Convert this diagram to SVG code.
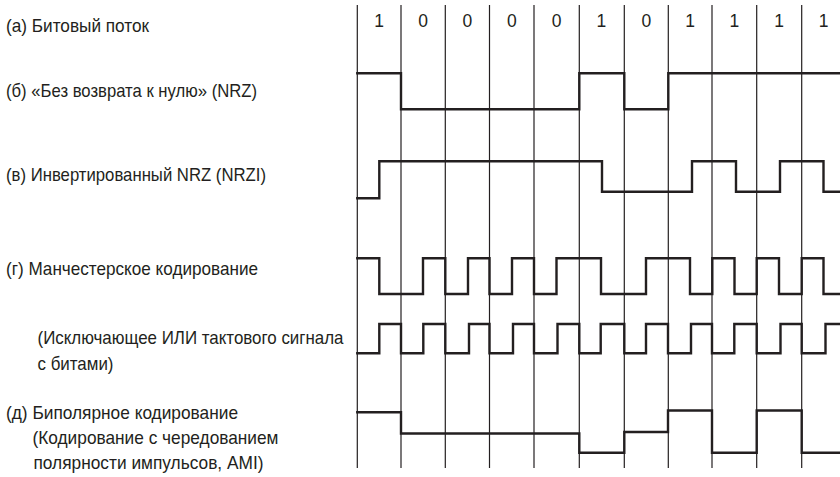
<svg xmlns="http://www.w3.org/2000/svg" width="840" height="477" viewBox="0 0 840 477">
<style>
.lbl{font-family:"Liberation Sans","DejaVu Sans",sans-serif;font-size:19px;fill:#231f20}
.bit{font-family:"Liberation Sans","DejaVu Sans",sans-serif;font-size:17.5px;fill:#231f20;text-anchor:middle}
.grid{stroke:#231f20;stroke-width:1.2;fill:none}
.wave{stroke:#231f20;stroke-width:2.4;fill:none;stroke-linejoin:miter;stroke-linecap:square}
</style>
<rect width="840" height="477" fill="#ffffff"/>
<g id="labels">
<text class="lbl" x="6" y="31.5" textLength="143" lengthAdjust="spacingAndGlyphs">(а) Битовый поток</text>
<text class="lbl" x="6" y="96.5" textLength="251" lengthAdjust="spacingAndGlyphs">(б) «Без возврата к нулю» (NRZ)</text>
<text class="lbl" x="6" y="180.5" textLength="260" lengthAdjust="spacingAndGlyphs">(в) Инвертированный NRZ (NRZI)</text>
<text class="lbl" x="6" y="274.5" textLength="252" lengthAdjust="spacingAndGlyphs">(г) Манчестерское кодирование</text>
<text class="lbl" x="37.5" y="343.5" textLength="306" lengthAdjust="spacingAndGlyphs">(Исключающее ИЛИ тактового сигнала</text>
<text class="lbl" x="37.5" y="370" textLength="76" lengthAdjust="spacingAndGlyphs">с битами)</text>
<text class="lbl" x="6" y="419" textLength="232" lengthAdjust="spacingAndGlyphs">(д) Биполярное кодирование</text>
<text class="lbl" x="32.5" y="444" textLength="246" lengthAdjust="spacingAndGlyphs">(Кодирование с чередованием</text>
<text class="lbl" x="33.5" y="469" textLength="230" lengthAdjust="spacingAndGlyphs">полярности импульсов, AMI)</text>
</g>
<g id="grid" class="grid">
<line x1="357.3" y1="5" x2="357.3" y2="468"/>
<line x1="401" y1="5" x2="401" y2="468"/>
<line x1="445.3" y1="5" x2="445.3" y2="468"/>
<line x1="489.5" y1="5" x2="489.5" y2="468"/>
<line x1="534" y1="5" x2="534" y2="468"/>
<line x1="579.3" y1="5" x2="579.3" y2="468"/>
<line x1="624.3" y1="5" x2="624.3" y2="468"/>
<line x1="668.3" y1="5" x2="668.3" y2="468"/>
<line x1="712" y1="5" x2="712" y2="468"/>
<line x1="756.7" y1="5" x2="756.7" y2="468"/>
<line x1="801.7" y1="5" x2="801.7" y2="468"/>
</g>
<g id="bits">
<text class="bit" x="379" y="27">1</text>
<text class="bit" x="423" y="27">0</text>
<text class="bit" x="467.4" y="27">0</text>
<text class="bit" x="511.8" y="27">0</text>
<text class="bit" x="556.6" y="27">0</text>
<text class="bit" x="601.3" y="27">1</text>
<text class="bit" x="646.3" y="27">0</text>
<text class="bit" x="690.2" y="27">1</text>
<text class="bit" x="734.4" y="27">1</text>
<text class="bit" x="779.2" y="27">1</text>
<text class="bit" x="823.5" y="27">1</text>
</g>
<g id="nrz">
<path class="wave" d="M357.3 73.3 H401 V109.3 H579.3 V73.3 H624.3 V109.3 H668.3 V73.3 H842"/>
</g>
<g id="nrzi">
<path class="wave" d="M357.3 198.3 H379.3 V161.3 H602 V191.7 H692 V161.3 H736 V191.7 H780 V161.3 H823.5 V191.7 H842"/>
</g>
<g id="manchester">
<path class="wave" d="M357.3 258.3 H379.3 V294 H423 V258.3 H445.3 V294 H468 V258.3 H489.5 V294 H512 V258.3 H534 V294 H556.5 V258.3 H601 V294 H646 V258.3 H690 V294 H712.3 V258.3 H734.5 V294 H756.7 V258.3 H779 V294 H801.7 V258.3 H823.5 V294 H842"/>
</g>
<g id="manchester-xor">
<path class="wave" d="M357.3 353.3 H379.3 V324 H401 V353.3 H423.3 V324 H445.3 V353.3 H469 V324 H489.5 V353.3 H513 V324 H534 V353.3 H557.5 V324 H579.3 V353.3 H600.7 V324 H624.3 V353.3 H646 V324 H668 V353.3 H691 V324 H712 V353.3 H734.3 V324 H756.7 V353.3 H780.5 V324 H801.7 V353.3 H825.5 V324 H842"/>
</g>
<g id="bipolar">
<path class="wave" d="M357.3 412.3 H401 V433.5 H579.3 V452.7 H624.3 V432 H668 V410.5 H712 V452.7 H756.7 V410.5 H801.7 V452.7 H842"/>
</g>
</svg>
